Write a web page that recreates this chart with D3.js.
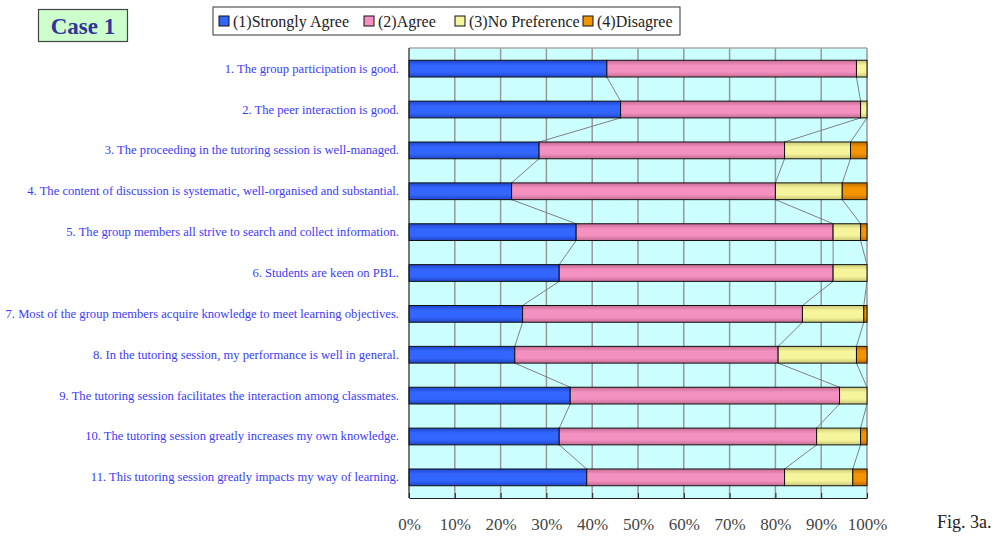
<!DOCTYPE html>
<html>
<head>
<meta charset="utf-8">
<script src="https://cdn.jsdelivr.net/npm/d3@7"></script>
<style>
  body { margin: 0; background: #fff; }
  svg { display: block; }
</style>
</head>
<body>
<svg width="1001" height="539"></svg>
<script>
var categories = [
  "1. The group participation is good.",
  "2. The peer interaction is good.",
  "3. The proceeding in the tutoring session is well-managed.",
  "4. The content of discussion is systematic, well-organised and substantial.",
  "5. The group members all strive to search and collect information.",
  "6. Students are keen on PBL.",
  "7. Most of the group members acquire knowledge to meet learning objectives.",
  "8. In the tutoring session, my performance is well in general.",
  "9. The tutoring session facilitates the interaction among classmates.",
  "10. The tutoring session greatly increases my own knowledge.",
  "11. This tutoring session greatly impacts my way of learning."
];
var seriesNames = ["(1)Strongly Agree", "(2)Agree", "(3)No Preference", "(4)Disagree"];
var stronglyAgree = [43.2, 46.2, 28.4, 22.4, 36.5, 32.8, 24.8, 23.1, 35.2, 32.8, 38.8];
var agree         = [54.5, 52.4, 53.6, 57.6, 56.1, 59.8, 61.1, 57.5, 58.8, 56.2, 43.2];
var noPreference  = [2.3, 1.4, 14.4, 14.6, 6.0, 7.4, 13.4, 17.1, 6.0, 9.6, 14.9];
var disagree      = [0, 0, 3.6, 5.4, 1.4, 0, 0.7, 2.3, 0, 1.4, 3.1];
var tickValues = [0, 0.1, 0.2, 0.3, 0.4, 0.5, 0.6, 0.7, 0.8, 0.9, 1];

var colors = ["#3366ff", "#f491c0", "#f6f59c", "#f39400"];
var dark = ["#1f45c8", "#c46a94", "#c9c774", "#c06c00"];
var serif = "'Liberation Serif', 'Times New Roman', serif";

var svg = d3.select("svg");
var plotL = 409, plotR = 867, plotT = 48, plotB = 498;

var rows = categories.map(function(c, i) {
  return { cat: c, v: [stronglyAgree[i], agree[i], noPreference[i], disagree[i]] };
});
rows.forEach(function(r) {
  var tot = d3.sum(r.v);
  r.v = r.v.map(function(d) { return d / tot; });
});
var stack = d3.stack().keys([0, 1, 2, 3]).value(function(d, k) { return d.v[k]; });
var series = stack(rows);

var x = d3.scaleLinear().domain([0, 1]).range([plotL, plotR]);
var y = d3.scaleBand().domain(categories).range([plotT, plotB]).paddingInner(0.59).paddingOuter(0.3);

// gradients
var defs = svg.append("defs");
colors.forEach(function(c, i) {
  var g = defs.append("linearGradient").attr("id", "g" + i)
    .attr("x1", 0).attr("y1", 0).attr("x2", 0).attr("y2", 1);
  g.append("stop").attr("offset", "0%").attr("stop-color", dark[i]);
  g.append("stop").attr("offset", "30%").attr("stop-color", c);
  g.append("stop").attr("offset", "70%").attr("stop-color", c);
  g.append("stop").attr("offset", "100%").attr("stop-color", dark[i]);
});

// plot background
svg.append("rect").attr("x", plotL).attr("y", plotT)
  .attr("width", plotR - plotL).attr("height", plotB - plotT)
  .attr("fill", "#ccffff");

// grid
svg.append("g").selectAll("line").data(tickValues.slice(1))
  .join("line")
  .attr("x1", function(d) { return x(d); }).attr("x2", function(d) { return x(d); })
  .attr("y1", plotT).attr("y2", plotB)
  .attr("stroke", "#999").attr("stroke-width", 1.5);
svg.append("line").attr("x1", plotL).attr("x2", plotR).attr("y1", plotT).attr("y2", plotT)
  .attr("stroke", "#aaa").attr("stroke-width", 1.5);

// series lines
var lineG = svg.append("g").attr("stroke", "#808080").attr("stroke-width", 1).attr("fill", "none");
series.slice(0, 3).forEach(function(s) {
  for (var i = 0; i < s.length - 1; i++) {
    lineG.append("line")
      .attr("x1", x(s[i][1])).attr("y1", y(categories[i]) + y.bandwidth())
      .attr("x2", x(s[i + 1][1])).attr("y2", y(categories[i + 1]));
  }
});

// bars
svg.append("g").selectAll("g").data(series).join("g")
  .attr("fill", function(d, i) { return "url(#g" + i + ")"; })
  .selectAll("rect").data(function(d) { return d; }).join("rect")
  .attr("x", function(d) { return x(d[0]); })
  .attr("y", function(d) { return y(d.data.cat); })
  .attr("width", function(d) { return x(d[1]) - x(d[0]); })
  .attr("height", y.bandwidth())
  .attr("stroke", "#111").attr("stroke-width", 1)
  .attr("display", function(d) { return d[1] - d[0] > 0 ? null : "none"; });

// axes
svg.append("line").attr("x1", plotL).attr("x2", plotL).attr("y1", plotT).attr("y2", plotB)
  .attr("stroke", "#222").attr("stroke-width", 1.2);
var xAxis = svg.append("g").attr("transform", "translate(0," + plotB + ")")
  .call(d3.axisBottom(x).tickValues(tickValues).tickFormat(d3.format(".0%")).tickSizeInner(-5).tickSizeOuter(0));
xAxis.select(".domain").attr("stroke", "#222").attr("stroke-width", 1.2);
xAxis.selectAll(".tick line").attr("stroke", "#222");
xAxis.selectAll("text")
  .attr("y", 32).attr("dy", 0)
  .attr("font-family", serif)
  .attr("font-size", 17).attr("fill", "#444");

// category labels
svg.append("g").selectAll("text").data(categories).join("text")
  .attr("x", 399)
  .attr("y", function(d) { return y(d) + y.bandwidth() / 2 + 4; })
  .attr("text-anchor", "end")
  .attr("font-family", serif)
  .attr("font-size", 12.6).attr("fill", "#3b3bff")
  .text(function(d) { return d; });

// legend
var leg = svg.append("g");
leg.append("rect").attr("x", 213).attr("y", 7).attr("width", 467).attr("height", 28)
  .attr("fill", "#fff").attr("stroke", "#333").attr("stroke-width", 1);
var legX = [219, 364, 455, 583];
seriesNames.forEach(function(n, i) {
  leg.append("rect").attr("x", legX[i]).attr("y", 16).attr("width", 10).attr("height", 10)
    .attr("fill", colors[i]).attr("stroke", "#111").attr("stroke-width", 1);
  leg.append("text").attr("x", legX[i] + 14).attr("y", 27)
    .attr("font-family", serif)
    .attr("font-size", 16).attr("fill", "#222").text(n);
});

// case box
svg.append("rect").attr("x", 38.5).attr("y", 9.5).attr("width", 89).attr("height", 32)
  .attr("fill", "#ccffcc").attr("stroke", "#444").attr("stroke-width", 1.2);
svg.append("text").attr("x", 83).attr("y", 34).attr("text-anchor", "middle")
  .attr("font-family", serif)
  .attr("font-weight", "bold").attr("font-size", 23).attr("fill", "#333399")
  .text("Case 1");

svg.append("text").attr("x", 937).attr("y", 528)
  .attr("font-family", serif)
  .attr("font-size", 18).attr("fill", "#222").text("Fig. 3a.");
</script>
</body>
</html>
